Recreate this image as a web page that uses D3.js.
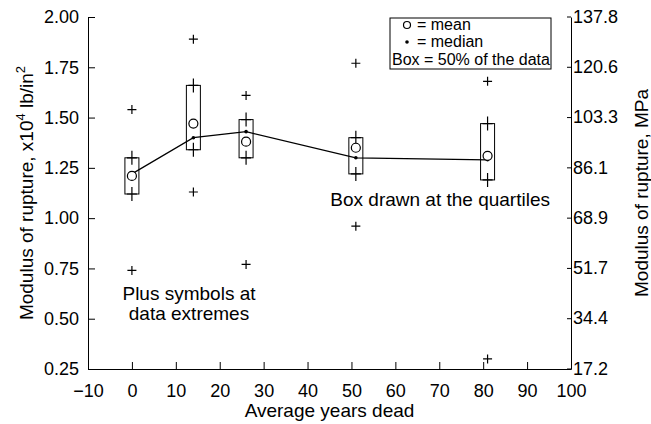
<!DOCTYPE html>
<html>
<head>
<meta charset="utf-8">
<script src="https://cdn.jsdelivr.net/npm/d3@7"></script>
<style>
  body { margin: 0; background: #fff; }
  text { font-family: "Liberation Sans", Arial, Helvetica, sans-serif; fill: #000; }
</style>
</head>
<body>
<div id="chart"></div>
<script>
// data
var years     = [0, 14, 26, 51, 81];
var lowest    = [0.74, 1.13, 0.77, 0.96, 0.30];
var quart1    = [1.12, 1.34, 1.30, 1.22, 1.19];
var medians   = [1.22, 1.40, 1.43, 1.30, 1.29];
var means     = [1.21, 1.47, 1.38, 1.35, 1.31];
var quart3    = [1.30, 1.66, 1.49, 1.40, 1.47];
var highest   = [1.54, 1.89, 1.61, 1.77, 1.68];

var xTicks     = [-10, 0, 10, 20, 30, 40, 50, 60, 70, 80, 90, 100];
var yTicks     = [0.25, 0.50, 0.75, 1.00, 1.25, 1.50, 1.75, 2.00];
var mpaTicks   = [17.2, 34.4, 51.7, 68.9, 86.1, 103.3, 120.6, 137.8];

var margin = {top: 17, right: 80, bottom: 55, left: 88},
    width = 651 - margin.left - margin.right,
    height = 424 - margin.top - margin.bottom;

var svg = d3.select("#chart")
  .append("svg")
    .attr("width", 651)
    .attr("height", 424)
  .append("g")
    .attr("transform", "translate(" + margin.left + "," + margin.top + ")");

var x = d3.scaleLinear().domain([-10, 100]).range([0, width]);
var y = d3.scaleLinear().domain([0.25, 2.00]).range([height, 0]);
// MPa axis is just psi*6.89
var y2 = d3.scaleLinear().domain([0.25 * 68.9, 2.00 * 68.9]).range([height, 0]);

var fs = "18px";

var gx = svg.append("g")
  .attr("transform", "translate(0," + height + ")")
  .call(d3.axisBottom(x).tickValues(xTicks).tickSizeInner(-7).tickSizeOuter(0)
        .tickFormat(function(d) { return d < 0 ? "\u2212" + (-d) : d; }));
gx.selectAll("text").attr("y", 15).style("font-size", fs);

var gy = svg.append("g")
  .call(d3.axisLeft(y).tickValues(yTicks).tickSizeInner(-7).tickSizeOuter(0)
        .tickFormat(d3.format(".2f")));
gy.selectAll("text").attr("x", -9).style("font-size", fs);

var gy2 = svg.append("g")
  .attr("transform", "translate(" + width + ",0)")
  .call(d3.axisRight(y2).tickValues(mpaTicks).tickSizeInner(-4).tickSizeOuter(0)
        .tickFormat(function(d, i) { return mpaTicks[i].toFixed(1); }));
// put the MPa ticks exactly on the psi tick rows
gy2.selectAll(".tick").attr("transform", function(d, i) { return "translate(0," + y(yTicks[i]) + ")"; });
gy2.selectAll("text").attr("x", 2).style("font-size", fs);

svg.selectAll(".domain").attr("stroke", "#000");
svg.selectAll(".tick line").attr("stroke", "#000");

// axis titles
svg.append("text")
  .attr("x", width / 2)
  .attr("y", height + 48)
  .attr("text-anchor", "middle")
  .style("font-size", "19px")
  .text("Average years dead");

var lt = svg.append("text")
  .attr("transform", "translate(-55," + (height / 2) + ") rotate(-90)")
  .attr("text-anchor", "middle")
  .style("font-size", "19px");
lt.append("tspan").text("Modulus of rupture,  x10");
lt.append("tspan").attr("dy", -8).style("font-size", "13px").text("4");
lt.append("tspan").attr("dy", 8).text(" lb/in");
lt.append("tspan").attr("dy", -8).style("font-size", "13px").text("2");

svg.append("text")
  .attr("transform", "translate(" + (width + 77) + "," + (height / 2) + ") rotate(-90)")
  .attr("text-anchor", "middle")
  .style("font-size", "19px")
  .text("Modulus of rupture, MPa");

// median line
var line = d3.line()
  .x(function(d, i) { return x(years[i]); })
  .y(function(d) { return y(d); });
svg.append("path")
  .datum(medians)
  .attr("d", line)
  .attr("fill", "none")
  .attr("stroke", "#000")
  .attr("stroke-width", 1.2);

svg.selectAll(".med")
  .data(medians)
  .enter().append("circle")
    .attr("cx", function(d, i) { return x(years[i]); })
    .attr("cy", function(d) { return y(d); })
    .attr("r", 1.8)
    .attr("fill", "#000");

// boxes
svg.selectAll(".box")
  .data(years)
  .enter().append("rect")
    .attr("x", function(d) { return x(d) - 7; })
    .attr("y", function(d, i) { return y(quart3[i]); })
    .attr("width", 14)
    .attr("height", function(d, i) { return y(quart1[i]) - y(quart3[i]); })
    .attr("fill", "none")
    .attr("stroke", "#000")
    .attr("stroke-width", 1);

function plus(sel, vals, hx, hy) {
  var g = sel.append("g");
  g.selectAll("path")
    .data(vals)
    .enter().append("path")
      .attr("d", function(d, i) {
        var cx = x(years[i]), cy = y(d);
        return "M" + (cx - hx) + "," + cy + "H" + (cx + hx) +
               "M" + cx + "," + (cy - hy) + "V" + (cy + hy);
      })
      .attr("stroke", "#000")
      .attr("stroke-width", 1.2)
      .attr("fill", "none");
}
plus(svg, quart1, 5, 7);
plus(svg, quart3, 5, 7);
plus(svg, lowest, 4.5, 4.5);
plus(svg, highest, 4.5, 4.5);

// means
svg.selectAll(".mean")
  .data(means)
  .enter().append("circle")
    .attr("cx", function(d, i) { return x(years[i]); })
    .attr("cy", function(d) { return y(d); })
    .attr("r", 4.5)
    .attr("fill", "#fff")
    .attr("stroke", "#000")
    .attr("stroke-width", 1.2);

// notes
svg.append("text").attr("x", x(13)).attr("y", y(0.593)).attr("text-anchor", "middle")
  .style("font-size", "19px").text("Plus symbols at");
svg.append("text").attr("x", x(13)).attr("y", y(0.494)).attr("text-anchor", "middle")
  .style("font-size", "19px").text("data extremes");
svg.append("text").attr("x", x(70.2)).attr("y", y(1.06)).attr("text-anchor", "middle")
  .style("font-size", "19px").text("Box drawn at the quartiles");

// legend
var lg = svg.append("g").attr("transform", "translate(" + (390 - margin.left) + "," + (18 - margin.top) + ")");
lg.append("rect").attr("width", 161).attr("height", 51)
  .attr("fill", "#fff").attr("stroke", "#000").attr("stroke-width", 1);
lg.append("circle").attr("cx", 17).attr("cy", 7).attr("r", 3.5)
  .attr("fill", "none").attr("stroke", "#000").attr("stroke-width", 1.2);
lg.append("circle").attr("cx", 17).attr("cy", 24).attr("r", 1.8).attr("fill", "#000");
lg.append("text").attr("x", 27).attr("y", 12).style("font-size", "16px").text("= mean");
lg.append("text").attr("x", 27).attr("y", 29).style("font-size", "16px").text("= median");
lg.append("text").attr("x", 2).attr("y", 47).style("font-size", "16px").text("Box = 50% of the data");
</script>
</body>
</html>
